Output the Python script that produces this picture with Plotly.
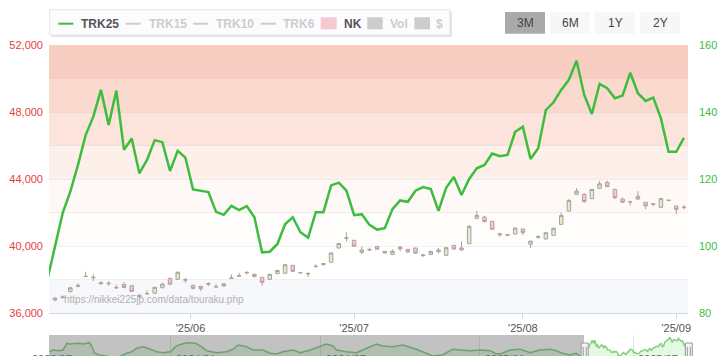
import plotly.graph_objects as go

# ---------------- data ----------------
dates = [
    "2025-05-02", "2025-05-07", "2025-05-08", "2025-05-09", "2025-05-12", "2025-05-13", "2025-05-14",
    "2025-05-15", "2025-05-16", "2025-05-19", "2025-05-20", "2025-05-21", "2025-05-22", "2025-05-23",
    "2025-05-26", "2025-05-27", "2025-05-28", "2025-05-29", "2025-05-30",
    "2025-06-02", "2025-06-03", "2025-06-04", "2025-06-05", "2025-06-06", "2025-06-09", "2025-06-10",
    "2025-06-11", "2025-06-12", "2025-06-13", "2025-06-16", "2025-06-17", "2025-06-18", "2025-06-19",
    "2025-06-20", "2025-06-23", "2025-06-24", "2025-06-25", "2025-06-26", "2025-06-27", "2025-06-30",
    "2025-07-01", "2025-07-02", "2025-07-03", "2025-07-04", "2025-07-07", "2025-07-08", "2025-07-09",
    "2025-07-10", "2025-07-11", "2025-07-14", "2025-07-15", "2025-07-16", "2025-07-17", "2025-07-18",
    "2025-07-22", "2025-07-23", "2025-07-24", "2025-07-25", "2025-07-28", "2025-07-29", "2025-07-30",
    "2025-07-31",
    "2025-08-01", "2025-08-04", "2025-08-05", "2025-08-06", "2025-08-07", "2025-08-08", "2025-08-12",
    "2025-08-13", "2025-08-14", "2025-08-15", "2025-08-18", "2025-08-19", "2025-08-20", "2025-08-21",
    "2025-08-22", "2025-08-25", "2025-08-26", "2025-08-27", "2025-08-28", "2025-08-29",
    "2025-09-01", "2025-09-02",
]

trk25 = [
    89.9, 99.6, 109.8, 116.2, 124.2, 133.1, 138.6, 146.6, 136.1, 146.4, 128.7, 132.1, 121.7, 125.7,
    131.6, 131.0, 122.4, 128.4, 126.4,
    116.9, 116.5, 116.1, 110.2, 109.3, 112.0, 110.7, 111.9, 108.6, 98.1, 98.3, 100.6, 106.5, 108.6,
    104.1, 102.5, 110.1, 110.1, 118.1, 118.9, 116.5,
    109.2, 109.5, 106.3, 104.9, 105.3, 111.0, 113.6, 113.2, 116.5, 117.6, 117.0, 110.5, 117.4, 120.6,
    115.2, 120.0, 123.2, 124.2, 127.6, 126.8, 127.2, 134.1,
    135.6, 126.0, 129.2, 140.6, 142.9, 146.6, 149.6, 155.3, 145.1, 139.4, 148.4, 147.1, 144.1, 144.9,
    151.7, 145.6, 143.3, 144.3, 138.1, 128.1,
    128.1, 132.3,
]

nk_dates = dates[1:]
nk_open = [
    36890, 36960, 37280, 37600, 38200, 38100, 37810, 37780, 37520, 37700, 37630, 37050, 37140, 37180,
    37510, 38070, 38010, 37990,
    37650, 37590, 37720, 37570, 37610, 38060, 38190, 38400, 38310, 38130, 38010, 38350, 38370, 38846,
    38420, 38330, 38780, 38900, 39025, 39880, 40470,
    40340, 39620, 39760, 39980, 39680, 39500, 39940, 39800, 39880, 39420, 39500, 39762, 39443, 40040,
    39881, 40140, 41650, 41732, 41473, 40737, 40680, 40717,
    41015, 40100, 40520, 40418, 40637, 41294, 42090, 43085, 43085, 42826, 43443, 43801, 43383, 42806,
    42660, 42965, 42607, 42500, 42309, 42740,
    42388, 42290,
]
nk_high = [
    36950, 37050, 37560, 37770, 38470, 38310, 37900, 37900, 37700, 37840, 37650, 37150, 37350, 37560,
    37800, 38100, 38480, 38100,
    37700, 37620, 37830, 37740, 37760, 38300, 38400, 38500, 38350, 38140, 38330, 38600, 38900, 38870,
    38450, 38450, 38900, 38950, 39600, 40170, 40820,
    40360, 39960, 39900, 40000, 39700, 39800, 40000, 39820, 39900, 39500, 39680, 39880, 39910, 40060,
    40280, 41250, 42090, 41800, 41500, 40780, 40700, 41110,
    41030, 40300, 40640, 40800, 41100, 42000, 42800, 43450, 43150, 43400, 43880, 43900, 43400, 42900,
    42680, 43270, 42620, 42560, 42840, 42750,
    42400, 42450,
]
nk_low = [
    36700, 36850, 37230, 37520, 38150, 37910, 37700, 37620, 37480, 37480, 37250, 36850, 37120, 37160,
    37480, 37700, 37980, 37800,
    37400, 37300, 37600, 37530, 37600, 38040, 38170, 38300, 38120, 37630, 37990, 38320, 38340, 38450,
    38350, 38150, 38700, 38800, 39000, 39860, 40260,
    39950, 39500, 39700, 39780, 39560, 39480, 39680, 39600, 39540, 39350, 39450, 39560, 39420, 39800,
    39700, 40120, 41600, 41420, 40980, 40560, 40580, 40690,
    40650, 39880, 40430, 40400, 40600, 41280, 42080, 43050, 42600, 42800, 43420, 43520, 42800, 42560,
    42420, 42760, 42200, 42380, 42300, 42680,
    41890, 42180,
]
nk_close = [
    36780, 36929, 37503, 37644, 38183, 38128, 37755, 37754, 37499, 37529, 37299, 36986, 37160, 37531,
    37724, 37722, 38433, 37965,
    37471, 37447, 37747, 37554, 37742, 38089, 38212, 38421, 38173, 37834, 38311, 38537, 38885, 38488,
    38403, 38354, 38791, 38942, 39585, 40151, 40487,
    39986, 39762, 39786, 39811, 39588, 39689, 39821, 39646, 39570, 39460, 39678, 39663, 39901, 39819,
    39775, 41171, 41826, 41456, 40998, 40675, 40655, 41070,
    40800, 40291, 40550, 40795, 41059, 41820, 42718, 43275, 42649, 43378, 43714, 43546, 42889, 42610,
    42633, 42808, 42394, 42520, 42829, 42718,
    42189, 42310,
]

# navigator: older TRK25 history (position in trading days relative to first date)
nav_hist_pos = [
    -428, -425, -421, -417, -414, -412, -404, -401, -396, -394, -392, -388, -380, -372, -366, -362,
    -358, -353, -347, -342, -337, -331, -327, -322, -317, -311, -307, -302, -294, -286, -281, -277,
    -270, -265, -257, -251, -246, -241, -233, -227, -219, -211, -206, -201, -198, -190, -182, -177,
    -171, -166, -161, -153, -145, -139, -134, -126, -121, -113, -105, -99, -91, -83, -75, -70, -65,
    -59, -51, -43, -35, -27, -22, -17, -11, -6,
]
nav_hist_vals = [
    111.3, 116.5, 114.3, 116.5, 137.0, 134.8, 137.0, 134.8, 138.8, 128.7, 107.3, 101.2, 96.0, 96.0,
    106.4, 111.3, 121.7, 126.6, 118.6, 111.3, 108.2, 111.3, 126.6, 134.8, 138.8, 137.0, 128.7, 114.3,
    108.2, 111.3, 118.6, 131.8, 126.6, 116.5, 116.5, 106.4, 104.2, 111.3, 116.5, 108.2, 116.5, 126.6,
    134.8, 128.7, 116.5, 111.3, 108.2, 116.5, 126.6, 134.8, 128.7, 126.6, 131.8, 124.7, 118.6, 106.4,
    98.1, 101.2, 118.6, 116.5, 114.3, 116.5, 114.3, 104.2, 106.4, 116.5, 118.6, 108.2, 116.5, 118.6,
    114.3, 106.4, 101.2, 106.4,
]
nav_grid_pos = [-331, -210.5, -83.5, 40]
nav_labels = ["2023/07", "2024/01", "2024/07", "2025/01", "2025/07"]

x_tick_text = ["'25/06", "'25/07", "'25/08", "'25/09"]
x_tick_pos = [18.67, 40, 62, 82]
left_ticks = [36000, 38000, 40000, 42000, 44000, 46000, 48000, 50000, 52000]
right_ticks = [80, 100, 120, 140, 160]
band_edges = [80, 90, 100, 110, 120, 130, 140, 150, 160]
band_colors = ["#f7f8fc", "#ffffff", "#fffdfc", "#fef8f6", "#fdefea", "#fce4dc", "#fad9cf", "#f8cdc2"]

legend_items = ["TRK25", "TRK15", "TRK10", "TRK6", "NK", "Vol", "$"]
buttons = ["3M", "6M", "1Y", "2Y"]
watermark = "https://nikkei225jp.com/data/touraku.php"

# ---------------- layout helpers ----------------
W, H = 726, 356
PL, PR = 49, 688
FONT = "Liberation Sans, Arial, sans-serif"


def fx(x):
    return (x - PL) / (PR - PL)


def fy(y):
    return (H - y) / H


fig = go.Figure()

fig.add_trace(go.Candlestick(
    x=nk_dates, open=nk_open, high=nk_high, low=nk_low, close=nk_close,
    xaxis="x", yaxis="y", whiskerwidth=0, showlegend=False, name="NK",
    increasing=dict(line=dict(color="#a2a59a", width=1), fillcolor="#e4ecce"),
    decreasing=dict(line=dict(color="#b59ea2", width=1), fillcolor="#f7c7ce"),
))
fig.add_trace(go.Scatter(
    x=dates, y=trk25, xaxis="x", yaxis="y2", mode="lines", name="TRK25",
    line=dict(color="#3dbd3d", width=2.5), showlegend=False,
))
nav_x = nav_hist_pos + list(range(len(dates)))
nav_y = nav_hist_vals + trk25
fig.add_trace(go.Scatter(
    x=nav_x, y=nav_y, xaxis="x2", yaxis="y3", mode="lines", fill="tozeroy",
    fillcolor="rgba(90,210,90,0.16)", line=dict(color="#7fd07f", width=1.5), showlegend=False,
))

shapes = []
# bands
for i, c in enumerate(band_colors):
    shapes.append(dict(type="rect", xref="paper", yref="y2", x0=0, x1=1,
                       y0=band_edges[i], y1=band_edges[i + 1], fillcolor=c,
                       line=dict(width=0), layer="below"))

# legend box with shadow
shapes.append(dict(type="rect", xref="paper", yref="paper", x0=fx(51), x1=fx(452), y0=fy(37), y1=fy(11.5),
                   fillcolor="rgba(0,0,0,0.10)", line=dict(width=0)))
shapes.append(dict(type="rect", xref="paper", yref="paper", x0=fx(49.7), x1=fx(450), y0=fy(35), y1=fy(9.7),
                   fillcolor="#fcfcfe", line=dict(color="#e4e4e8", width=1)))
legend_sym_x = [(58.3, 73.3), (125.7, 140.7), (193.3, 208.3), (260.7, 275.7)]
legend_line_cols = ["#3dbd3d", "#cccccc", "#cccccc", "#cccccc"]
for (a, b), c in zip(legend_sym_x, legend_line_cols):
    shapes.append(dict(type="line", xref="paper", yref="paper", x0=fx(a), x1=fx(b), y0=fy(23.7), y1=fy(23.7),
                       line=dict(color=c, width=2)))
legend_sq_x = [(320.7, 336.7), (367.3, 382.7), (414.3, 430)]
legend_sq_cols = ["#f7c8d0", "#cccccc", "#cccccc"]
for (a, b), c in zip(legend_sq_x, legend_sq_cols):
    shapes.append(dict(type="rect", xref="paper", yref="paper", x0=fx(a), x1=fx(b), y0=fy(29.3), y1=fy(17.3),
                       fillcolor=c, line=dict(width=0)))

# range buttons
btn_x = [505, 550, 595, 640]
for i, bx in enumerate(btn_x):
    shapes.append(dict(type="rect", xref="paper", yref="paper", x0=fx(bx), x1=fx(bx + 40), y0=fy(33.7), y1=fy(12),
                       fillcolor="#aaaaaa" if i == 0 else "#f7f7f7", line=dict(width=0)))

# navigator mask and handles
shapes.append(dict(type="rect", xref="paper", yref="paper", x0=0, x1=fx(584), y0=-0.2, y1=fy(335),
                   fillcolor="rgba(70,70,70,0.33)", line=dict(width=0), layer="above"))
for hx in (584.7, 688.8):
    shapes.append(dict(type="rect", xref="paper", yref="paper", x0=fx(hx - 3.5), x1=fx(hx + 3.5), y0=-0.1, y1=fy(343),
                       fillcolor="#f2f2f2", line=dict(color="#999999", width=1), layer="above"))
    for dx in (-1.5, 1.5):
        shapes.append(dict(type="line", xref="paper", yref="paper", x0=fx(hx + dx), x1=fx(hx + dx),
                           y0=fy(356), y1=fy(347), line=dict(color="#999999", width=1), layer="above"))

annotations = []
legend_text_x = [79, 146.7, 214, 281, 341.7, 388.3, 434.3]
legend_text_col = ["#555555", "#cccccc", "#cccccc", "#cccccc", "#555555", "#cccccc", "#cccccc"]
for t, x, c in zip(legend_items, legend_text_x, legend_text_col):
    annotations.append(dict(text="<b>%s</b>" % t, xref="paper", yref="paper", x=fx(x), y=fy(23.5),
                            xanchor="left", yanchor="middle", showarrow=False,
                            font=dict(family=FONT, size=12, color=c)))
for t, bx in zip(buttons, btn_x):
    annotations.append(dict(text=t, xref="paper", yref="paper", x=fx(bx + 20), y=fy(23),
                            xanchor="center", yanchor="middle", showarrow=False,
                            font=dict(family=FONT, size=12, color="#444444")))
annotations.append(dict(text=watermark, xref="paper", yref="paper", x=fx(62), y=fy(299.5),
                        xanchor="left", yanchor="middle", showarrow=False,
                        font=dict(family=FONT, size=10, color="#b0b0b0")))
nav_label_px = [30, 174, 324, 483, 636]
for t, x in zip(nav_labels, nav_label_px):
    annotations.append(dict(text=t, xref="paper", yref="paper", x=fx(x), y=fy(350.5),
                            xanchor="left", yanchor="top", showarrow=False,
                            font=dict(family=FONT, size=11, color="#666666")))

fig.update_layout(
    width=W, height=H,
    margin=dict(l=PL, r=W - PR, t=0, b=0, pad=0, autoexpand=False),
    paper_bgcolor="white", plot_bgcolor="white",
    showlegend=False, boxgap=0.35, hovermode=False, dragmode=False,
    font=dict(family=FONT, size=11, color="#555555"),
    xaxis=dict(type="category", categoryorder="array", categoryarray=dates,
               range=[0.22, 83.53], domain=[0, 1], anchor="y", automargin=False,
               tickvals=x_tick_pos, ticktext=x_tick_text, showgrid=False,
               showline=True, linecolor="#ccd6eb", linewidth=1,
               ticks="outside", ticklen=5, tickcolor="#ccd6eb",
               tickfont=dict(family=FONT, size=11, color="#555555"),
               rangeslider=dict(visible=False), fixedrange=True),
    yaxis=dict(domain=[fy(313), fy(45)], range=[36000, 52000], anchor="x", automargin=False,
               tickvals=left_ticks,
               ticktext=["{:,}".format(v) if (v - 36000) % 4000 == 0 else "" for v in left_ticks],
               showgrid=True, gridcolor="rgba(0,0,0,0.055)", gridwidth=1, zeroline=False,
               showline=False, ticks="", ticklabelstandoff=5,
               tickfont=dict(family=FONT, size=11, color="#e53e3e")),
    yaxis2=dict(overlaying="y", side="right", range=[80, 160], anchor="x", automargin=False,
                tickvals=right_ticks, showgrid=False, zeroline=False, showline=False,
                ticks="", ticklabelstandoff=10,
                tickfont=dict(family=FONT, size=11, color="#3dbd3d")),
    xaxis2=dict(domain=[0, 1], anchor="y3", range=[-428.3, 83.53], tickvals=nav_grid_pos, automargin=False,
                showticklabels=False, showgrid=True, gridcolor="#e3e3e3", zeroline=False,
                showline=False, ticks=""),
    yaxis3=dict(domain=[0, fy(335)], anchor="x2", range=[98.1, 162.3], visible=False, automargin=False,
                showgrid=False, zeroline=False),
    shapes=shapes, annotations=annotations,
)

fig.write_html(
    "out.html",
    config={"displayModeBar": False, "staticPlot": True},
    post_script="document.body.style.margin='0';document.body.style.overflow='hidden';",
)
